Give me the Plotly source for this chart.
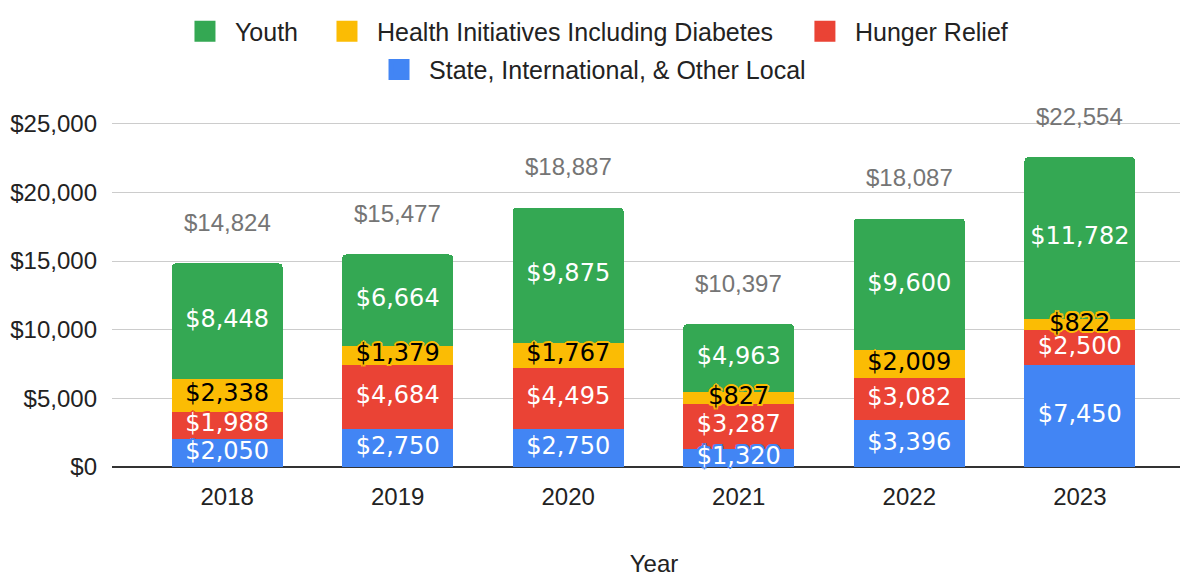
import plotly.graph_objects as go

years = ["2018", "2019", "2020", "2021", "2022", "2023"]
youth = [8448, 6664, 9875, 4963, 9600, 11782]
health = [2338, 1379, 1767, 827, 2009, 822]
hunger = [1988, 4684, 4495, 3287, 3082, 2500]
state = [2050, 2750, 2750, 1320, 3396, 7450]
y_ticks = [0, 5000, 10000, 15000, 20000, 25000]
y_tick_text = ["$0", "$5,000", "$10,000", "$15,000", "$20,000", "$25,000"]

GREEN = "#34A853"
YELLOW = "#FBBC04"
RED = "#EA4335"
BLUE = "#4285F4"
TEXT = "#222222"


def halo(c):
    offs = [(2, 0), (-2, 0), (0, 2), (0, -2), (1.5, 1.5), (-1.5, -1.5), (1.5, -1.5), (-1.5, 1.5)]
    return ", ".join(f"{dx}px {dy}px 0 {c}" for dx, dy in offs)


# (name, values, colour, label colour, legend id) -- bottom of stack first
series = [
    ("State, International, & Other Local", state, BLUE, "white", "legend4"),
    ("Hunger Relief", hunger, RED, "white", "legend3"),
    ("Health Initiatives Including Diabetes", health, YELLOW, "black", "legend2"),
    ("Youth", youth, GREEN, "white", "legend"),
]

fig = go.Figure()
for name, vals, col, tcol, leg in series:
    fig.add_trace(go.Bar(
        x=years, y=vals, name=name, marker_color=col,
        marker_line_width=0, width=0.65,
        showlegend=False, hoverinfo="skip",
    ))
    # legend swatch (larger square than the bar legend symbol)
    fig.add_trace(go.Scatter(
        x=[None], y=[None], mode="markers", name=name,
        marker=dict(symbol="square", size=16, color=col, line=dict(color=col, width=5)),
        legend=leg, showlegend=True, hoverinfo="skip",
    ))

# segment labels drawn above all bars, centred in each segment
base = [0] * len(years)
for name, vals, col, tcol, leg in series:
    mids = [b + v / 2 for b, v in zip(base, vals)]
    fig.add_trace(go.Scatter(
        x=years, y=mids, mode="text",
        text=[f"${v:,}" for v in vals],
        textposition="middle center",
        textfont=dict(family="DejaVu Sans", size=24, color=tcol, shadow=halo(col)),
        cliponaxis=False, showlegend=False, hoverinfo="skip",
    ))
    base = [b + v for b, v in zip(base, vals)]

totals = [a + b + c + d for a, b, c, d in zip(youth, health, hunger, state)]
for i, t in enumerate(totals):
    fig.add_annotation(x=i, y=t, xref="x", yref="y", text=f"${t:,}", showarrow=False,
                       yanchor="middle", yshift=41,
                       font=dict(family="Liberation Sans", size=24, color="#757575"))

leg_font = dict(family="Liberation Sans", size=25, color=TEXT)


def leg(x, y):
    return dict(orientation="h", x=x, xanchor="left", y=y, yanchor="middle",
                itemwidth=50, bgcolor="rgba(0,0,0,0)", font=leg_font)


fig.update_layout(
    width=1188, height=573,
    barmode="stack",
    barcornerradius=4,
    paper_bgcolor="white", plot_bgcolor="white",
    margin=dict(l=104, r=0, t=92, b=114),
    font=dict(family="Liberation Sans", size=24, color=TEXT),
    showlegend=True,
    legend=leg(0.0581, 1.2098),
    legend2=leg(0.1891, 1.2098),
    legend3=leg(0.630, 1.2098),
    legend4=leg(0.2371, 1.1035),
    xaxis=dict(type="category", range=[-0.675, 5.681], showgrid=False,
               ticks="", ticklabelstandoff=13,
               tickfont=dict(family="Liberation Sans", size=24, color=TEXT),
               title=dict(text="Year", standoff=46,
                          font=dict(family="Liberation Sans", size=24, color=TEXT))),
    yaxis=dict(range=[0, 26214], tickvals=y_ticks, ticktext=y_tick_text,
               showgrid=True, gridcolor="#CCCCCC", gridwidth=1,
               zeroline=True, zerolinecolor="#333333", zerolinewidth=2,
               ticks="", ticklabelstandoff=14,
               tickfont=dict(family="Liberation Sans", size=24, color=TEXT)),
)

fig.write_html("out.html")
